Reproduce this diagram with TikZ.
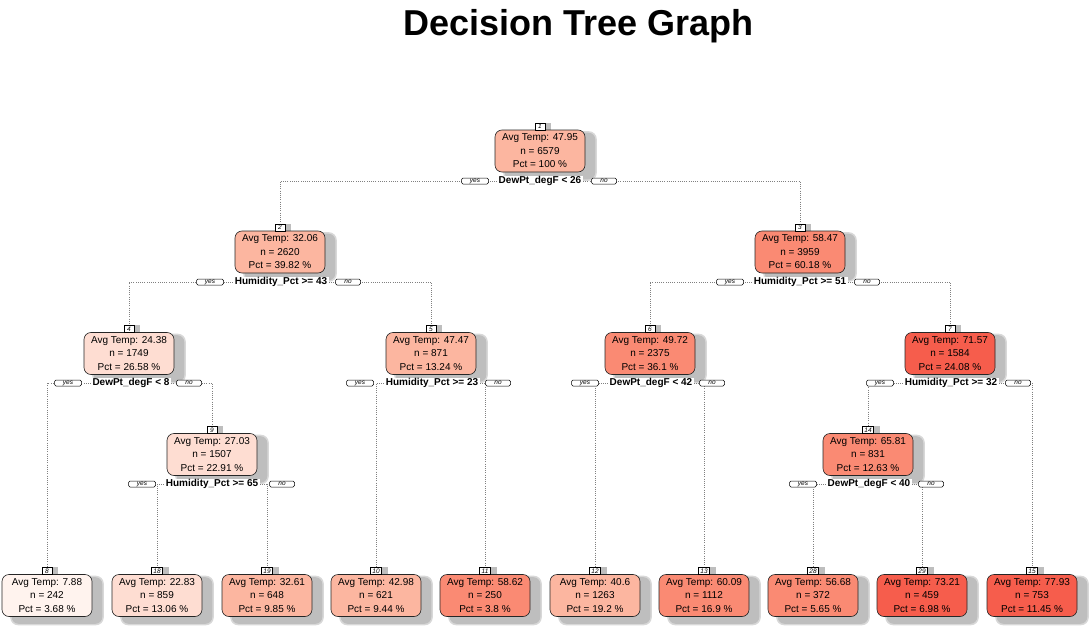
\documentclass[tikz,border=0pt]{standalone}
\usepackage{fontspec}
\setmainfont{Liberation Sans}
\pgfdeclarelayer{paper}
\pgfdeclarelayer{bg}
\pgfsetlayers{paper,bg,main}
\definecolor{cA}{HTML}{FFF3EE}
\definecolor{cB}{HTML}{FEDDD2}
\definecolor{cC}{HTML}{FCB6A0}
\definecolor{cD}{HTML}{FA8A73}
\definecolor{cE}{HTML}{F65D4C}
\definecolor{shadowout}{HTML}{D8D8D8}
\definecolor{shadowin}{HTML}{BEBEBE}
\tikzset{
  tbox/.style={draw=black!85, line width=0.6pt, rounded corners=7pt, minimum width=90pt,
    minimum height=42pt, align=center, font=\fontsize{10}{13.5}\selectfont, inner sep=0pt},
  numlab/.style={draw=black, fill=white, line width=0.5pt, font=\itshape\fontsize{6.5}{7}\selectfont,
    minimum height=7pt, minimum width=10pt, inner ysep=0pt, inner xsep=2pt},
  yn/.style={draw=black, fill=white, line width=0.5pt, rounded corners=1.5pt,
    font=\itshape\fontsize{6.5}{7}\selectfont, minimum height=6pt, inner sep=0pt, minimum width=27pt},
  splitlab/.style={fill=white, font=\bfseries\fontsize{10}{12}\selectfont, inner xsep=1.5pt, inner ysep=0.5pt},
  conn/.style={draw=black!50, line width=0.7pt, dash pattern=on 0.7pt off 1.5pt},
}
% #1 name, #2 cx, #3 cy, #4 fill colour, #5 number, #6 avg, #7 n, #8 pct
\newcommand\TB[8]{%
  \node[tbox, fill=#4] (#1) at (#2,#3) {Avg Temp: #6\\n = #7\\Pct = #8 \%};
  \node[numlab] (#1n) at (#2,#3-24.5) {#5};
  \begin{pgfonlayer}{bg}
    \fill[shadowout, rounded corners=8pt] ([xshift=8.5pt,yshift=-1.5pt]#1.north west) rectangle ([xshift=11.5pt,yshift=-8.5pt]#1.south east);
    \fill[shadowin, rounded corners=7pt] ([xshift=10pt,yshift=-3pt]#1.north west) rectangle ([xshift=10pt,yshift=-7pt]#1.south east);
    \fill[shadowin] ([xshift=5pt]#1n.north west) rectangle ([xshift=6pt,yshift=-4pt]#1n.south east);
  \end{pgfonlayer}
}
% #1 name, #2 cx, #3 y, #4 text, #5 yes cx, #6 no cx
\newcommand\SP[6]{%
  \node[splitlab] (#1) at (#2,#3) {#4};
  \node[yn] (#1y) at (#5,#3) {yes};
  \node[yn, minimum width=25pt] (#1o) at (#6,#3) {no};
}
\begin{document}
\begin{tikzpicture}[x=1pt,y=-1pt]
\begin{pgfonlayer}{paper}
\fill[white] (0,0) rectangle (1090,626);
\end{pgfonlayer}
\useasboundingbox (0,0) rectangle (1090,626);

\node[font=\bfseries\fontsize{36}{40}\selectfont, anchor=base, inner sep=0pt] (title) at (578.5,36) {Decision Tree Graph};

% internal nodes
\TB{n1}{540}{151}{cC}{1}{47.95}{6579}{100}
\TB{n2}{280}{252}{cC}{2}{32.06}{2620}{39.82}
\TB{n3}{800}{252}{cD}{3}{58.47}{3959}{60.18}
\TB{n4}{129}{353.5}{cB}{4}{24.38}{1749}{26.58}
\TB{n5}{431}{353.5}{cC}{5}{47.47}{871}{13.24}
\TB{n6}{650}{353.5}{cD}{6}{49.72}{2375}{36.1}
\TB{n7}{950}{353.5}{cE}{7}{71.57}{1584}{24.08}
\TB{n9}{212}{454.5}{cB}{9}{27.03}{1507}{22.91}
\TB{n14}{868}{454.5}{cD}{14}{65.81}{831}{12.63}

% leaves
\TB{l8}{47}{595.5}{cA}{8}{7.88}{242}{3.68}
\TB{l18}{157}{595.5}{cB}{18}{22.83}{859}{13.06}
\TB{l19}{267}{595.5}{cC}{19}{32.61}{648}{9.85}
\TB{l10}{376}{595.5}{cC}{10}{42.98}{621}{9.44}
\TB{l11}{485}{595.5}{cD}{11}{58.62}{250}{3.8}
\TB{l12}{595}{595.5}{cC}{12}{40.6}{1263}{19.2}
\TB{l13}{704}{595.5}{cD}{13}{60.09}{1112}{16.9}
\TB{l28}{813}{595.5}{cD}{28}{56.68}{372}{5.65}
\TB{l29}{922}{595.5}{cE}{29}{73.21}{459}{6.98}
\TB{l15}{1032}{595.5}{cE}{15}{77.93}{753}{11.45}

% split labels
\SP{s1}{540}{181}{DewPt\_degF < 26}{475}{604}
\SP{s2}{281}{282}{Humidity\_Pct >= 43}{210}{348}
\SP{s3}{800}{282}{Humidity\_Pct >= 51}{730}{867}
\SP{s4}{131}{383}{DewPt\_degF < 8}{68}{189}
\SP{s5}{432}{383}{Humidity\_Pct >= 23}{360}{498}
\SP{s6}{651}{383}{DewPt\_degF < 42}{585}{712}
\SP{s7}{951}{383}{Humidity\_Pct >= 32}{880}{1018}
\SP{s9}{212}{484}{Humidity\_Pct >= 65}{142}{282}
\SP{s14}{869}{484}{DewPt\_degF < 40}{803}{931}

% connectors
\begin{pgfonlayer}{bg}
\draw[conn] (s1) -| (n2n.north);
\draw[conn] (s1) -| (n3n.north);
\draw[conn] (s2) -| (n4n.north);
\draw[conn] (s2) -| (n5n.north);
\draw[conn] (s3) -| (n6n.north);
\draw[conn] (s3) -| (n7n.north);
\draw[conn] (s4) -| (l8n.north);
\draw[conn] (s4) -| (n9n.north);
\draw[conn] (s5) -| (l10n.north);
\draw[conn] (s5) -| (l11n.north);
\draw[conn] (s6) -| (l12n.north);
\draw[conn] (s6) -| (l13n.north);
\draw[conn] (s7) -| (n14n.north);
\draw[conn] (s7) -| (l15n.north);
\draw[conn] (s9) -| (l18n.north);
\draw[conn] (s9) -| (l19n.north);
\draw[conn] (s14) -| (l28n.north);
\draw[conn] (s14) -| (l29n.north);
\end{pgfonlayer}
\end{tikzpicture}
\end{document}
